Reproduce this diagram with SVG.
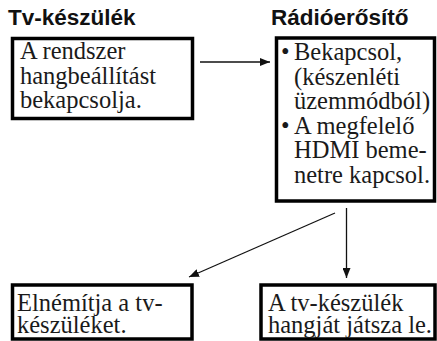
<svg xmlns="http://www.w3.org/2000/svg" width="437" height="341" viewBox="0 0 437 341">
  <style>
    .title { font-family: "Liberation Sans", Arial, sans-serif; font-weight: bold; font-size: 22.5px; fill: #111; }
    .body { font-family: "Liberation Serif", "Times New Roman", serif; font-size: 24.5px; fill: #1a1a1a; }
    .box { fill: #fff; stroke: #000; stroke-width: 3.5; }
    .conn { stroke: #111; stroke-width: 1.3; fill: none; marker-end: url(#ah); }
  </style>
  <defs>
    <marker id="ah" viewBox="0 0 10 8" refX="10" refY="4" markerWidth="10" markerHeight="8" orient="auto" markerUnits="userSpaceOnUse">
      <path d="M0,0 L10,4 L0,8 z" fill="#111"/>
    </marker>
  </defs>

  <rect width="437" height="341" fill="#fff"/>

  <!-- column headings -->
  <text class="title" x="8" y="25">Tv-készülék</text>
  <text class="title" x="271" y="25">Rádióerősítő</text>

  <!-- connectors -->
  <g id="connectors">
    <line class="conn" x1="200" y1="62" x2="270" y2="62"/>
    <line class="conn" x1="346.5" y1="208" x2="346.5" y2="278"/>
    <line class="conn" x1="335" y1="213" x2="189" y2="277"/>
  </g>

  <g id="tv-on">
    <rect class="box" x="12.5" y="38.5" width="180" height="80"/>
    <text class="body" x="20" y="59">A rendszer</text>
    <text class="body" x="20" y="84">hangbeállítást</text>
    <text class="body" x="20" y="108">bekapcsolja.</text>
  </g>

  <g id="amp">
    <rect class="box" x="276.5" y="38" width="158" height="163"/>
    <text class="body" x="281" y="60">•</text>
    <text class="body" x="294" y="60">Bekapcsol,</text>
    <text class="body" x="294" y="84.5">(készenléti</text>
    <text class="body" x="294" y="109">üzemmódból)</text>
    <text class="body" x="281" y="133.5">•</text>
    <text class="body" x="294" y="133.5">A megfelelő</text>
    <text class="body" x="294" y="158">HDMI beme-</text>
    <text class="body" x="294" y="182.5">netre kapcsol.</text>
  </g>

  <g id="tv-mute">
    <rect class="box" x="12.5" y="285" width="179.5" height="54"/>
    <text class="body" x="17" y="311">Elnémítja a tv-</text>
    <text class="body" x="17" y="333">készüléket.</text>
  </g>

  <g id="amp-audio">
    <rect class="box" x="261" y="285" width="174" height="54"/>
    <text class="body" x="268" y="311">A tv-készülék</text>
    <text class="body" x="268" y="333">hangját játsza le.</text>
  </g>
</svg>
